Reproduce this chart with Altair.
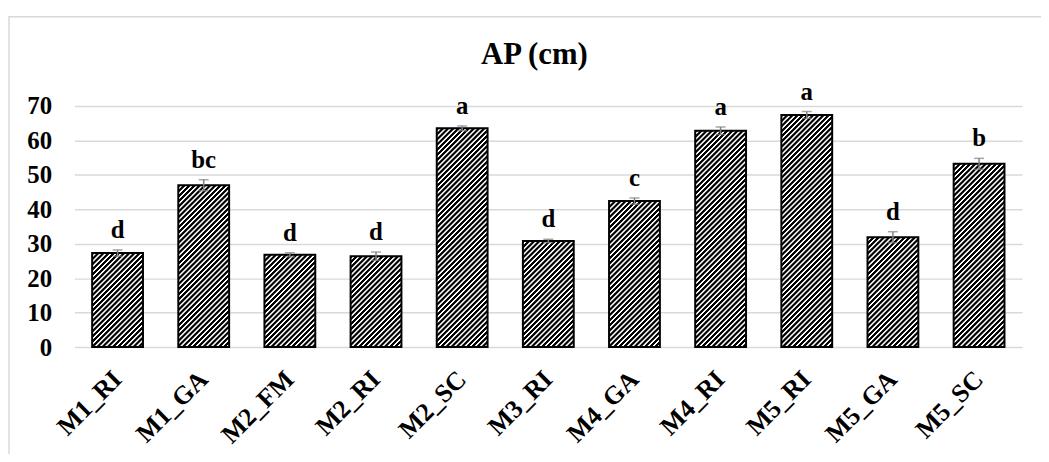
import altair as alt
import pandas as pd

categories = ["M1_RI", "M1_GA", "M2_FM", "M2_RI", "M2_SC", "M3_RI",
              "M4_GA", "M4_RI", "M5_RI", "M5_GA", "M5_SC"]
means = [27.3, 47.0, 26.8, 26.4, 63.5, 30.8, 42.4, 62.8, 67.4, 31.9, 53.2]
errors = [0.9, 1.6, 0.6, 1.2, 0.7, 0.5, 0.9, 1.1, 1.0, 1.6, 1.6]
letters = ["d", "bc", "d", "d", "a", "d", "c", "a", "a", "d", "b"]
y_ticks = [0, 10, 20, 30, 40, 50, 60, 70]

df = pd.DataFrame({
    "cat": categories,
    "mean": means,
    "lo": [m - e for m, e in zip(means, errors)],
    "hi": [m + e for m, e in zip(means, errors)],
    "letter": letters,
})

W, H = 955, 243
YMAX = 70
FONT = "Times New Roman, Liberation Serif, serif"
n = len(categories)
step = W / n
bar_w = step * (1 - 0.41)

x_enc = alt.X("cat:N", sort=categories, title=None,
              scale=alt.Scale(paddingInner=0.41, paddingOuter=0.205))
y_scale = alt.Scale(domain=[0, YMAX], nice=False)
y_axis = alt.Axis(values=y_ticks, title=None, labelOverlap=False)


def Y(field):
    return alt.Y(field, scale=y_scale, axis=y_axis)


PERIOD = 5.2   # stripe period in px (measured along x)


def hatch(h, w=bar_w):
    # diagonal "/" stripes at 45 degrees in pixel space (objectBoundingBox units),
    # soft ramps between black and white to avoid aliasing
    nper = int((w + h) / PERIOD) + 1
    L = nper * PERIOD
    k = L / (w * w + h * h)
    stops = []
    for i in range(nper):
        stops += [
            {"offset": round((i + 0.00) / nper, 6), "color": "black"},
            {"offset": round((i + 0.42) / nper, 6), "color": "black"},
            {"offset": round((i + 0.60) / nper, 6), "color": "white"},
            {"offset": round((i + 0.84) / nper, 6), "color": "white"},
        ]
    stops.append({"offset": 1, "color": "black"})
    return {"gradient": "linear", "x1": 0, "y1": 0,
            "x2": round(k * w, 6), "y2": round(k * h, 6), "stops": stops}


base = alt.Chart(df)

frame = base.mark_rect(fill="transparent", stroke="#d9d9d9", strokeWidth=1.5).encode(
    x=alt.value(-66), x2=alt.value(W + 40), y=alt.value(-90), y2=alt.value(H + 150)
).transform_filter(alt.datum.cat == categories[0])

bars = []
for c, m in zip(categories, means):
    h = m / YMAX * H
    bars.append(
        base.transform_filter(alt.datum.cat == c)
        .mark_bar(fill=hatch(h), stroke="black", strokeWidth=2)
        .encode(x=x_enc, y=Y("mean:Q"))
    )

err_rule = base.mark_rule(color="#808080", strokeWidth=1.5).encode(
    x=x_enc, y=Y("lo:Q"), y2="hi:Q"
)
cap_hi = base.mark_tick(color="#808080", thickness=1.5, size=10).encode(
    x=x_enc, y=Y("hi:Q")
)
cap_lo = base.mark_tick(color="#808080", thickness=1.5, size=10).encode(
    x=x_enc, y=Y("lo:Q")
)
labels = base.mark_text(dy=-12, baseline="alphabetic", font=FONT,
                        fontWeight="bold", fontSize=25, color="black").encode(
    x=x_enc, y=Y("hi:Q"), text="letter:N"
)

chart = alt.layer(frame, *bars, err_rule, cap_hi, cap_lo, labels).properties(
    width=W, height=H,
    title=alt.TitleParams("AP (cm)", font=FONT, fontSize=31, fontWeight="bold",
                          color="black", anchor="middle", dx=-14, offset=-55),
    autosize=alt.AutoSizeParams(type="none"),
    padding={"left": 67, "top": 97, "right": 19, "bottom": 106},
).configure_view(stroke=None).configure_axis(
    labelFont=FONT, labelFontWeight="bold", labelColor="black",
    domain=False, ticks=False, gridColor="#d9d9d9", gridWidth=1.5,
).configure_axisY(
    labelFontSize=25, labelPadding=23, grid=True,
).configure_axisX(
    labelFontSize=26, labelAngle=-45, labelAlign="right", labelBaseline="middle",
    labelPadding=28, grid=False,
)

chart.save("out.html", embed_options={"renderer": "svg", "actions": False})
